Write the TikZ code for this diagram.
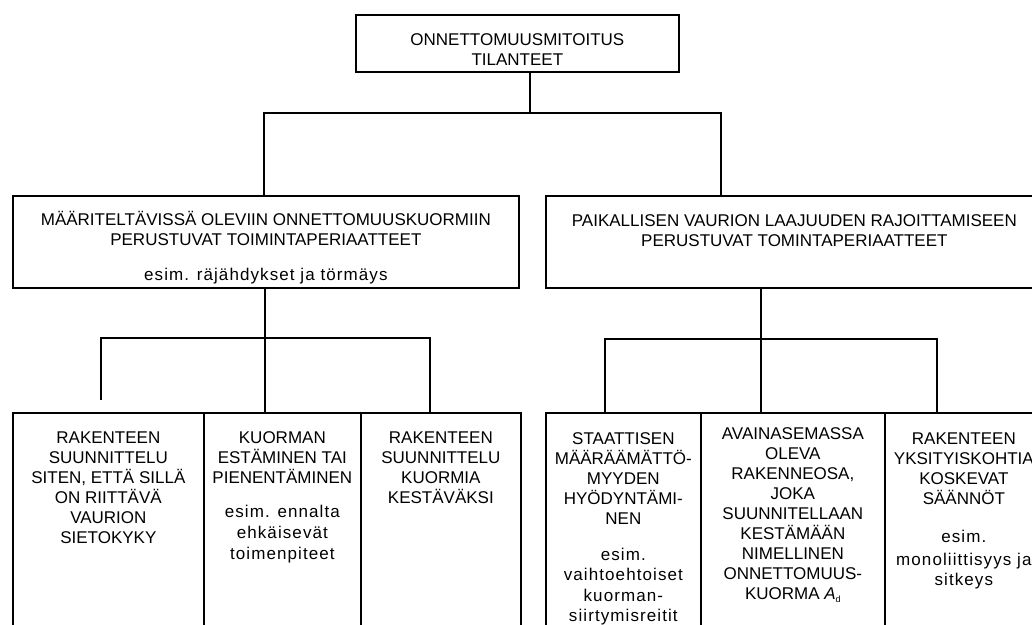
\documentclass[tikz,border=0pt]{standalone}
\usepackage{fontspec}
\setmainfont{Liberation Sans}
\newcommand\boxtext[4]{\parbox[c][#2][t]{#1}{\centering\fontsize{17}{20}\selectfont\rule{0pt}{#3}#4\par}}
\newcommand\lc{\addfontfeatures{LetterSpace=6.4}}
\tikzset{
  box/.style={draw, line width=1.7pt, inner sep=0pt, anchor=north west},
  link/.style={line width=1.7pt}
}
\begin{document}
\begin{tikzpicture}[x=1pt,y=-1pt]
\useasboundingbox (0,0) rectangle (1032,624);
\fill[white] (0,0) rectangle (1032,624);
\clip (0,0) rectangle (1032,624);
% top
\node[box] (top) at (355,14) {\boxtext{323pt}{57pt}{31pt}{ONNETTOMUUSMITOITUS\\TILANTEET}};
% level 1
\node[box] (L1) at (12,195) {\boxtext{506pt}{92pt}{30pt}{MÄÄRITELTÄVISSÄ OLEVIIN ONNETTOMUUSKUORMIIN\\PERUSTUVAT TOIMINTAPERIAATTEET\\[15pt]{\lc esim. räjähdykset ja törmäys}}};
\node[box] (R1) at (545,195) {\boxtext{497pt}{92pt}{31pt}{PAIKALLISEN VAURION LAAJUUDEN RAJOITTAMISEEN\\PERUSTUVAT TOMINTAPERIAATTEET}};
% level 2
\node[box] (b1) at (12,412) {\boxtext{191pt}{240pt}{31pt}{RAKENTEEN\\SUUNNITTELU\\SITEN, ETTÄ SILLÄ\\ON RIITTÄVÄ\\VAURION\\SIETOKYKY}};
\node[box] (b2) at (203,412) {\boxtext{157pt}{240pt}{31pt}{KUORMAN\\ESTÄMINEN TAI\\PIENENTÄMINEN\\[14pt]\lc esim. ennalta\\[1pt]ehkäisevät\\[1pt]toimenpiteet}};
\node[box] (b3) at (360,412) {\boxtext{160pt}{240pt}{31pt}{RAKENTEEN\\SUUNNITTELU\\KUORMIA\\KESTÄVÄKSI}};
\node[box] (b4) at (545,412) {\boxtext{155pt}{240pt}{32pt}{STAATTISEN\\MÄÄRÄÄMÄTTÖ-\\MYYDEN\\HYÖDYNTÄMI-\\NEN\\[16pt]\lc esim.\\vaihtoehtoiset\\[1pt]kuorman-\\siirtymisreitit}};
\node[box] (b5) at (700,412) {\boxtext{184pt}{240pt}{27pt}{AVAINASEMASSA\\OLEVA\\RAKENNEOSA,\\JOKA\\SUUNNITELLAAN\\KESTÄMÄÄN\\NIMELLINEN\\ONNETTOMUUS-\\KUORMA \textit{A}\raisebox{-3pt}{\fontsize{9}{9}\selectfont d}}};
\node[box] (b6) at (884,412) {\boxtext{158pt}{240pt}{32pt}{RAKENTEEN\\YKSITYISKOHTIA\\KOSKEVAT\\SÄÄNNÖT\\[18pt]\lc esim.\\[3pt]monoliittisyys ja\\sitkeys}};
% connectors top
\coordinate (j0) at (530,113);
\coordinate (jL) at (264,113);
\coordinate (jR) at (721,113);
\draw[link] (top.south -| j0) -- (j0);
\draw[link, line cap=rect] (jL) -- (jR);
\draw[link] (jL) -- (jL |- L1.north);
\draw[link] (jR) -- (jR |- R1.north);
% connectors left group
\coordinate (ka) at (101,338);
\coordinate (kb) at (265,338);
\coordinate (kc) at (430,338);
\coordinate (ka2) at (101,400);
\draw[link] (L1.south -| kb) -- (b2.north -| kb);
\draw[link, line cap=rect] (ka) -- (kc);
\draw[link] (ka) -- (ka2);
\draw[link] (kc) -- (kc |- b3.north);
% connectors right group
\coordinate (ma) at (605,339);
\coordinate (mb) at (761,339);
\coordinate (mc) at (937,339);
\draw[link] (R1.south -| mb) -- (b5.north -| mb);
\draw[link, line cap=rect] (ma) -- (mc);
\draw[link] (ma) -- (ma |- b4.north);
\draw[link] (mc) -- (mc |- b6.north);
\end{tikzpicture}
\end{document}
